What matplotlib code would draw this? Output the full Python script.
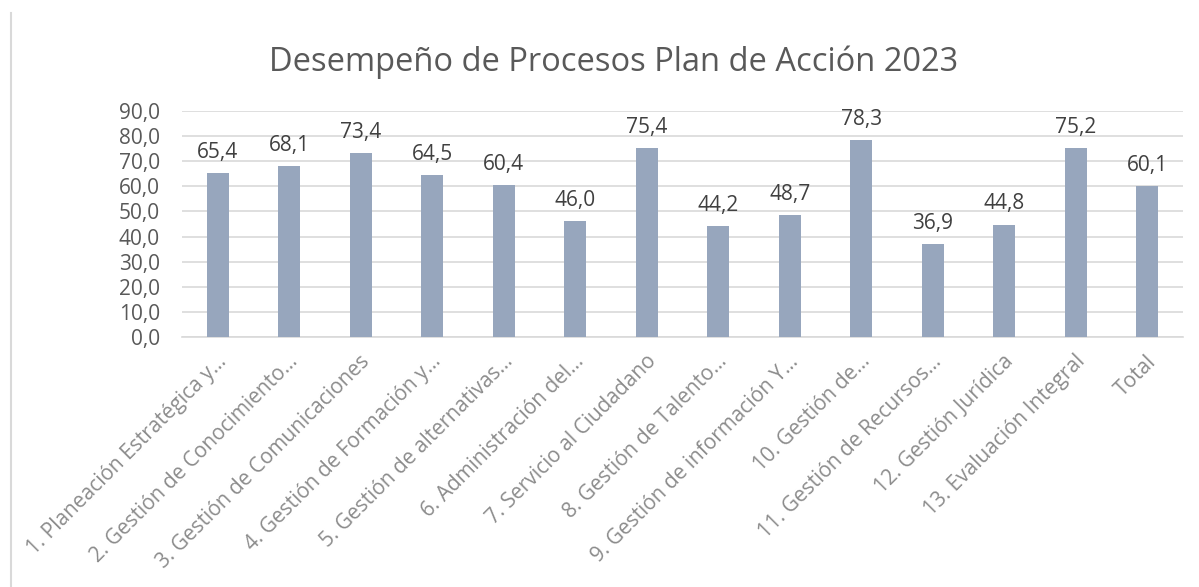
import matplotlib.pyplot as plt
import matplotlib.transforms as mtransforms
from matplotlib.lines import Line2D

categories = [
    "1. Planeación Estratégica y...",
    "2. Gestión de Conocimiento...",
    "3. Gestión de Comunicaciones",
    "4. Gestión de Formación y...",
    "5. Gestión de alternativas...",
    "6. Administración del...",
    "7. Servicio al Ciudadano",
    "8. Gestión de Talento...",
    "9. Gestión de información Y...",
    "10. Gestión de...",
    "11. Gestión de Recursos...",
    "12. Gestión Jurídica",
    "13. Evaluación Integral",
    "Total",
]
values = [65.4, 68.1, 73.4, 64.5, 60.4, 46.0, 75.4, 44.2, 48.7, 78.3, 36.9, 44.8, 75.2, 60.1]
yticks = [0, 10, 20, 30, 40, 50, 60, 70, 80, 90]

plt.rcParams['font.family'] = ['Open Sans', 'DejaVu Sans']
text_gray = '#595959'
bar_color = '#97A6BD'
grid_gray = '#D9D9D9'

fig = plt.figure(figsize=(11.99, 5.87), dpi=100)
ax = fig.add_axes([182 / 1199, 1 - 337 / 587, 1001 / 1199, 226 / 587])

x = range(len(categories))
ax.bar(x, values, width=0.31, color=bar_color, zorder=3)

for xi, v in zip(x, values):
    ax.text(xi, v + 4, f"{v:.1f}".replace('.', ','), ha='center', va='bottom',
            fontsize=15, color='#404040')

ax.set_xlim(-0.5, len(categories) - 0.5)
ax.set_ylim(0, 90)
ax.set_yticks(yticks)
ax.set_yticklabels([f"{t:.1f}".replace('.', ',') for t in yticks], fontsize=15, color=text_gray)
ax.set_xticks(list(x))
ax.set_xticklabels(categories, rotation=45, ha='right', va='center', rotation_mode='anchor',
                   fontsize=15, color='#8C8C8C')
ax.tick_params(axis='both', length=0)
ax.tick_params(axis='y', pad=16)
ax.tick_params(axis='x', pad=14)

# nudge the rotated labels a little to the right, like the original
shift = mtransforms.ScaledTranslation(6 / 100, -2 / 100, fig.dpi_scale_trans)
for lbl in ax.get_xticklabels():
    lbl.set_transform(lbl.get_transform() + shift)

ax.grid(axis='y', color=grid_gray, linewidth=1.2, zorder=0)
for s in ['top', 'right', 'left']:
    ax.spines[s].set_visible(False)
ax.spines['bottom'].set_color(grid_gray)
ax.spines['bottom'].set_linewidth(1.2)

fig.text(614 / 1199, 1 - 62 / 587, "Desempeño de Procesos Plan de Acción 2023",
         ha='center', va='center', fontsize=23.5, color=text_gray)

# left border line of the chart box
fig.add_artist(Line2D([11 / 1199, 11 / 1199], [0, 1 - 13 / 587],
                      transform=fig.transFigure, color=grid_gray, linewidth=1.5))

fig.savefig('out.png', dpi=100)
